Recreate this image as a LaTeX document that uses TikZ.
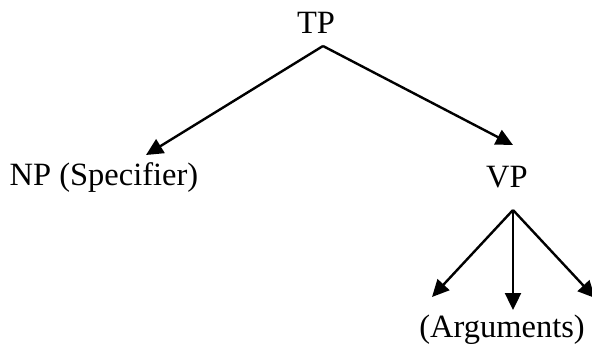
\documentclass[tikz,border=0pt]{standalone}
\usepackage{fontspec}
\setmainfont{Liberation Serif}
\usetikzlibrary{arrows.meta}
\begin{document}
\begin{tikzpicture}[x=1pt, y=-1pt, line width=2.4pt,
    tree arrow/.style={-{Triangle[length=17pt, width=16pt]}},
    label node/.style={inner sep=0pt, anchor=base}]
        \tikzstyle{every node}=[font=\fontsize{32.5}{38}\selectfont]
        \useasboundingbox (0,0) rectangle (592,343);

          \node[label node] (tp) at (316,33) {TP};
          \node[label node] (np) at (104,185) {NP (Specifier)};
          \node[label node] (vp) at (507,187) {VP};
          \node[label node] (args) at (502,337) {(Arguments)};

          \coordinate (tp top) at (323,46);
          \coordinate (vp top) at (513,210);
          \coordinate (np end) at (146,155);
          \coordinate (vp end) at (513,145);
          \coordinate (left end) at (432,297);
          \coordinate (mid end) at (513,310);
          \coordinate (right end) at (595,298);

          \path[tree arrow]
            (tp top) edge (np end)
                     edge (vp end)
            (vp top) edge (left end)
                     edge (mid end)
                     edge (right end);

\end{tikzpicture}
\end{document}
